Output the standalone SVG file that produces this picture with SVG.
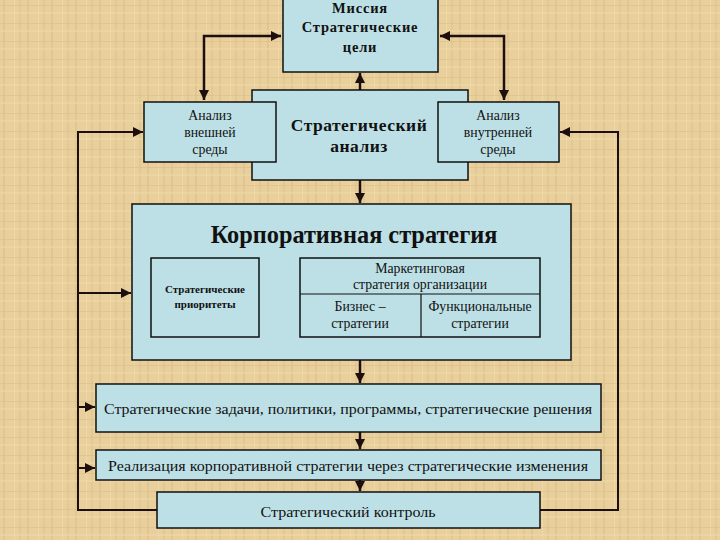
<svg xmlns="http://www.w3.org/2000/svg" width="720" height="540" viewBox="0 0 720 540">
<defs>
<pattern id="paper" width="24" height="18" patternUnits="userSpaceOnUse">
<rect width="24" height="18" fill="#e8cf9b"/>
<rect x="3" width="2" height="18" fill="#dcc08a" opacity="0.6"/>
<rect x="14" width="1" height="18" fill="#f2dcaa" opacity="0.7"/>
<rect x="19" width="2" height="18" fill="#d9bd86" opacity="0.4"/>
<rect y="5" width="24" height="1" fill="#d8bc85" opacity="0.5"/>
<rect y="12" width="24" height="2" fill="#f1dbab" opacity="0.5"/>
</pattern>
<marker id="ah" viewBox="0 0 10 10" refX="10" refY="5" markerWidth="4" markerHeight="4" orient="auto-start-reverse" markerUnits="strokeWidth">
<path d="M0,0 L10,5 L0,10 z" fill="#1e0f0f"/>
</marker>
<marker id="ah2" viewBox="0 0 10 10" refX="10" refY="5" markerWidth="5" markerHeight="5" orient="auto-start-reverse" markerUnits="strokeWidth">
<path d="M0,0 L10,5 L0,10 z" fill="#1e0f0f"/>
</marker>
</defs>
<style>
.box{fill:#bde0e6;stroke:#111;stroke-width:1.5}
.ln{fill:none;stroke:#1e0f0f;stroke-width:2.5}
.fb{fill:none;stroke:#1e0f0f;stroke-width:2}
.t{font-family:"Liberation Serif","Times New Roman",serif;fill:#111;text-anchor:middle}
.b{font-weight:bold}
.s{font-size:13.8px}
</style>
<rect width="720" height="540" fill="url(#paper)"/>

<g id="connectors">
<path class="ln" d="M204,100 V36 H281" marker-start="url(#ah)" marker-end="url(#ah)"/>
<path class="ln" d="M504,100 V36 H440" marker-start="url(#ah)" marker-end="url(#ah)"/>
<path class="ln" d="M360,90 V73" marker-end="url(#ah)"/>
<path class="ln" d="M360,180 V203" marker-end="url(#ah)"/>
<path class="ln" d="M360,360 V383" marker-end="url(#ah)"/>
<path class="ln" d="M360,432 V449" marker-end="url(#ah)"/>
<path class="ln" d="M360,480 V491" marker-end="url(#ah)"/>
<path class="ln" d="M260,276 H299" marker-end="url(#ah)"/>
<path class="ln" d="M260,312 H299" marker-end="url(#ah)"/>
<path class="fb" d="M157,510 H78 V132 H143" marker-end="url(#ah2)"/>
<path class="fb" d="M78,293 H131" marker-end="url(#ah2)"/>
<path class="fb" d="M78,407 H95" marker-end="url(#ah2)"/>
<path class="fb" d="M78,468 H95" marker-end="url(#ah2)"/>
<path class="fb" d="M540,510 H618 V132 H560" marker-end="url(#ah2)"/>
</g>

<g id="mission">
<rect class="box" x="283" y="-2" width="155" height="74"/>
<text class="t b" x="360" y="13" font-size="14.5" letter-spacing="0.8">Миссия</text>
<text class="t b" x="360" y="32" font-size="14.5" letter-spacing="0.8">Стратегические</text>
<text class="t b" x="360" y="52" font-size="14.5" letter-spacing="0.8">цели</text>
</g>

<g id="strategic-analysis">
<rect class="box" x="252" y="90" width="216" height="90"/>
<text class="t b" x="359" y="131" font-size="17.5" letter-spacing="0.5">Стратегический</text>
<text class="t b" x="359" y="152" font-size="17.5" letter-spacing="0.5">анализ</text>
</g>

<g id="external-analysis">
<rect class="box" x="144" y="102" width="132" height="60"/>
<text class="t s" x="210" y="120">Анализ</text>
<text class="t s" x="210" y="137">внешней</text>
<text class="t s" x="210" y="154">среды</text>
</g>

<g id="internal-analysis">
<rect class="box" x="438" y="102" width="121" height="60"/>
<text class="t s" x="498" y="120">Анализ</text>
<text class="t s" x="498" y="137">внутренней</text>
<text class="t s" x="498" y="154">среды</text>
</g>

<g id="corporate-strategy">
<rect class="box" x="132" y="204" width="439" height="156"/>
<text class="t b" x="354" y="243" font-size="24.3">Корпоративная стратегия</text>
</g>

<g id="priorities">
<rect class="box" x="151" y="258" width="108" height="79" stroke-width="1.2"/>
<text class="t b" x="205" y="293" font-size="11">Стратегические</text>
<text class="t b" x="205" y="308" font-size="11">приоритеты</text>
</g>

<g id="marketing-strategy">
<rect class="box" x="300" y="258" width="240" height="79" stroke-width="1.2"/>
<path d="M300,294 H540 M421,294 V337" stroke="#111" stroke-width="1.2" fill="none"/>
<text class="t s" x="420" y="273">Маркетинговая</text>
<text class="t s" x="420" y="289">стратегия организации</text>
</g>

<g id="business-strategies">
<text class="t s" x="360" y="311">Бизнес –</text>
<text class="t s" x="360" y="328">стратегии</text>
</g>

<g id="functional-strategies">
<text class="t s" x="480" y="311">Функциональные</text>
<text class="t s" x="480" y="328">стратегии</text>
</g>

<g id="tasks">
<rect class="box" x="96" y="384" width="505" height="48"/>
<text class="t" x="348" y="414" font-size="15.5" textLength="488" lengthAdjust="spacingAndGlyphs">Стратегические задачи, политики, программы, стратегические решения</text>
</g>

<g id="realization">
<rect class="box" x="96" y="450" width="505" height="30"/>
<text class="t" x="348" y="471" font-size="15.5" textLength="480" lengthAdjust="spacingAndGlyphs">Реализация корпоративной стратегии через стратегические изменения</text>
</g>

<g id="control">
<rect class="box" x="157" y="492" width="383" height="36"/>
<text class="t" x="348" y="517" font-size="15.5" textLength="175" lengthAdjust="spacingAndGlyphs">Стратегический контроль</text>
</g>
</svg>
